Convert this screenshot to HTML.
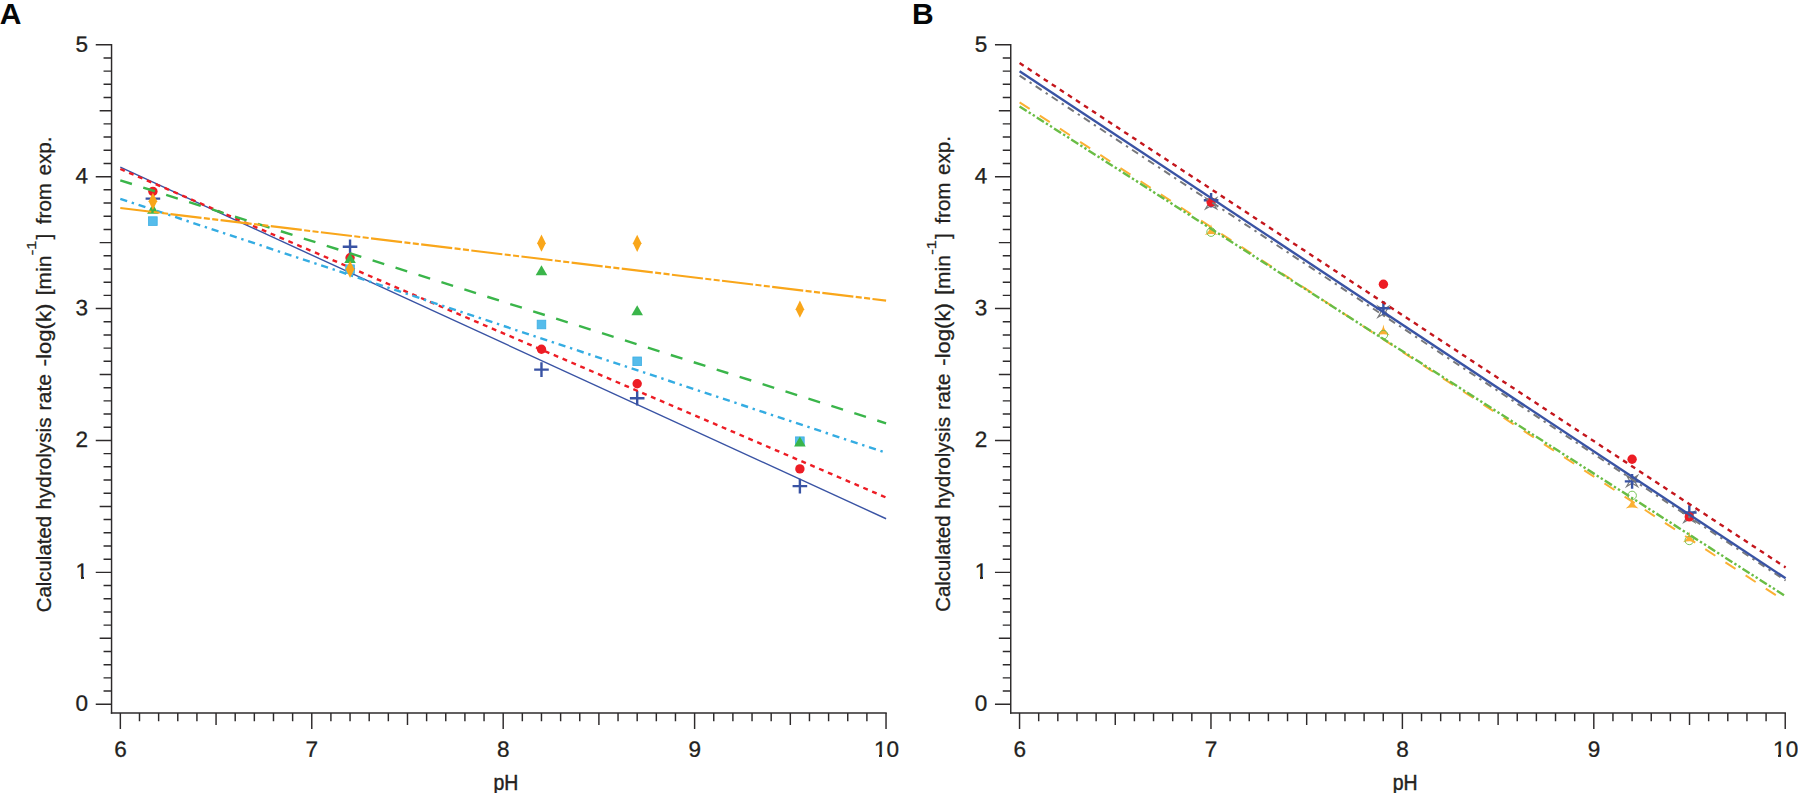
<!DOCTYPE html>
<html lang="en">
<head>
<meta charset="utf-8">
<title>Calculated hydrolysis rate vs pH</title>
<style>
html,body{margin:0;padding:0;background:#fff;}
body{width:1798px;height:793px;overflow:hidden;}
svg{display:block;}
text{font-family:"Liberation Sans",sans-serif;fill:#231f20;}
.tk text{font-size:22.1px;}
.ph{font-size:21.6px;}
.tk text,.ph,.al,.sup{stroke:#231f20;stroke-width:0.3px;}
.ph{stroke-width:0.45px;}
.al{font-size:20.9px;}
.sup{font-size:13.6px;}
.pl{font-size:30.0px;font-weight:bold;fill:#050708;}
</style>
</head>
<body>
<svg width="1798" height="793" viewBox="0 0 1798 793">
<rect width="1798" height="793" fill="#ffffff"/>
<g fill="none" stroke="#2d2a2b" stroke-width="1.45"><path d="M111.55 44.02V713.73" /><path d="M110.83 713.00H886.75" /><path d="M111.55 704.25h-15.8M111.55 691.06h-8.0M111.55 677.87h-8.0M111.55 664.68h-8.0M111.55 651.49h-8.0M111.55 638.30h-11.9M111.55 625.11h-8.0M111.55 611.92h-8.0M111.55 598.73h-8.0M111.55 585.54h-8.0M111.55 572.35h-15.8M111.55 559.16h-8.0M111.55 545.97h-8.0M111.55 532.78h-8.0M111.55 519.59h-8.0M111.55 506.40h-11.9M111.55 493.21h-8.0M111.55 480.02h-8.0M111.55 466.83h-8.0M111.55 453.64h-8.0M111.55 440.45h-15.8M111.55 427.26h-8.0M111.55 414.07h-8.0M111.55 400.88h-8.0M111.55 387.69h-8.0M111.55 374.50h-11.9M111.55 361.31h-8.0M111.55 348.12h-8.0M111.55 334.93h-8.0M111.55 321.74h-8.0M111.55 308.55h-15.8M111.55 295.36h-8.0M111.55 282.17h-8.0M111.55 268.98h-8.0M111.55 255.79h-8.0M111.55 242.60h-11.9M111.55 229.41h-8.0M111.55 216.22h-8.0M111.55 203.03h-8.0M111.55 189.84h-8.0M111.55 176.65h-15.8M111.55 163.46h-8.0M111.55 150.27h-8.0M111.55 137.08h-8.0M111.55 123.89h-8.0M111.55 110.70h-11.9M111.55 97.51h-8.0M111.55 84.32h-8.0M111.55 71.13h-8.0M111.55 57.94h-8.0M111.55 44.75h-15.8M120.35 713.00v16.0M139.49 713.00v8.2M158.63 713.00v8.2M177.78 713.00v8.2M196.92 713.00v8.2M216.06 713.00v12.1M235.20 713.00v8.2M254.34 713.00v8.2M273.49 713.00v8.2M292.63 713.00v8.2M311.77 713.00v16.0M330.91 713.00v8.2M350.05 713.00v8.2M369.20 713.00v8.2M388.34 713.00v8.2M407.48 713.00v12.1M426.62 713.00v8.2M445.76 713.00v8.2M464.91 713.00v8.2M484.05 713.00v8.2M503.19 713.00v16.0M522.33 713.00v8.2M541.47 713.00v8.2M560.62 713.00v8.2M579.76 713.00v8.2M598.90 713.00v12.1M618.04 713.00v8.2M637.18 713.00v8.2M656.33 713.00v8.2M675.47 713.00v8.2M694.61 713.00v16.0M713.75 713.00v8.2M732.89 713.00v8.2M752.04 713.00v8.2M771.18 713.00v8.2M790.32 713.00v12.1M809.46 713.00v8.2M828.60 713.00v8.2M847.75 713.00v8.2M866.89 713.00v8.2M886.03 713.00v16.0" /></g>
<g fill="none" stroke="#2d2a2b" stroke-width="1.45"><path d="M1010.75 44.02V713.73" /><path d="M1010.02 713.00H1785.95" /><path d="M1010.75 704.25h-15.8M1010.75 691.06h-8.0M1010.75 677.87h-8.0M1010.75 664.68h-8.0M1010.75 651.49h-8.0M1010.75 638.30h-11.9M1010.75 625.11h-8.0M1010.75 611.92h-8.0M1010.75 598.73h-8.0M1010.75 585.54h-8.0M1010.75 572.35h-15.8M1010.75 559.16h-8.0M1010.75 545.97h-8.0M1010.75 532.78h-8.0M1010.75 519.59h-8.0M1010.75 506.40h-11.9M1010.75 493.21h-8.0M1010.75 480.02h-8.0M1010.75 466.83h-8.0M1010.75 453.64h-8.0M1010.75 440.45h-15.8M1010.75 427.26h-8.0M1010.75 414.07h-8.0M1010.75 400.88h-8.0M1010.75 387.69h-8.0M1010.75 374.50h-11.9M1010.75 361.31h-8.0M1010.75 348.12h-8.0M1010.75 334.93h-8.0M1010.75 321.74h-8.0M1010.75 308.55h-15.8M1010.75 295.36h-8.0M1010.75 282.17h-8.0M1010.75 268.98h-8.0M1010.75 255.79h-8.0M1010.75 242.60h-11.9M1010.75 229.41h-8.0M1010.75 216.22h-8.0M1010.75 203.03h-8.0M1010.75 189.84h-8.0M1010.75 176.65h-15.8M1010.75 163.46h-8.0M1010.75 150.27h-8.0M1010.75 137.08h-8.0M1010.75 123.89h-8.0M1010.75 110.70h-11.9M1010.75 97.51h-8.0M1010.75 84.32h-8.0M1010.75 71.13h-8.0M1010.75 57.94h-8.0M1010.75 44.75h-15.8M1019.55 713.00v16.0M1038.69 713.00v8.2M1057.83 713.00v8.2M1076.98 713.00v8.2M1096.12 713.00v8.2M1115.26 713.00v12.1M1134.40 713.00v8.2M1153.54 713.00v8.2M1172.69 713.00v8.2M1191.83 713.00v8.2M1210.97 713.00v16.0M1230.11 713.00v8.2M1249.25 713.00v8.2M1268.40 713.00v8.2M1287.54 713.00v8.2M1306.68 713.00v12.1M1325.82 713.00v8.2M1344.96 713.00v8.2M1364.11 713.00v8.2M1383.25 713.00v8.2M1402.39 713.00v16.0M1421.53 713.00v8.2M1440.67 713.00v8.2M1459.82 713.00v8.2M1478.96 713.00v8.2M1498.10 713.00v12.1M1517.24 713.00v8.2M1536.38 713.00v8.2M1555.53 713.00v8.2M1574.67 713.00v8.2M1593.81 713.00v16.0M1612.95 713.00v8.2M1632.09 713.00v8.2M1651.24 713.00v8.2M1670.38 713.00v8.2M1689.52 713.00v12.1M1708.66 713.00v8.2M1727.80 713.00v8.2M1746.95 713.00v8.2M1766.09 713.00v8.2M1785.23 713.00v16.0" /></g>
<g class="tk"><text transform="translate(88.10 710.75) rotate(0.03) scale(1.02 1)" text-anchor="end">0</text><text transform="translate(88.10 578.85) rotate(0.03) scale(1.02 1)" text-anchor="end">1</text><text transform="translate(88.10 447.05) rotate(0.03) scale(1.02 1)" text-anchor="end">2</text><text transform="translate(88.10 315.35) rotate(0.03) scale(1.02 1)" text-anchor="end">3</text><text transform="translate(88.10 183.25) rotate(0.03) scale(1.02 1)" text-anchor="end">4</text><text transform="translate(88.10 51.85) rotate(0.03) scale(1.02 1)" text-anchor="end">5</text><text transform="translate(120.45 756.7) rotate(0.03) scale(1.02 1)" text-anchor="middle">6</text><text transform="translate(311.87 756.7) rotate(0.03) scale(1.02 1)" text-anchor="middle">7</text><text transform="translate(503.29 756.7) rotate(0.03) scale(1.02 1)" text-anchor="middle">8</text><text transform="translate(694.71 756.7) rotate(0.03) scale(1.02 1)" text-anchor="middle">9</text><text transform="translate(886.43 756.7) rotate(0.03) scale(1.02 1)" text-anchor="middle">10</text></g>
<text class="ph" transform="translate(505.90 789.8) scale(0.9 1)" text-anchor="middle">pH</text>
<text class="al" transform="translate(50.80 612.20) rotate(-90)" textLength="96.24" lengthAdjust="spacingAndGlyphs">Calculated</text>
<text class="al" transform="translate(50.80 509.50) rotate(-90)" textLength="92.09" lengthAdjust="spacingAndGlyphs">hydrolysis</text>
<text class="al" transform="translate(50.80 410.40) rotate(-90)" textLength="36.47" lengthAdjust="spacingAndGlyphs">rate</text>
<text class="al" transform="translate(50.80 366.20) rotate(-90)" textLength="62.49" lengthAdjust="spacingAndGlyphs">-log(k)</text>
<text class="al" transform="translate(50.80 295.30) rotate(-90)" textLength="39.58" lengthAdjust="spacingAndGlyphs">[min</text>
<text class="sup" transform="translate(36.20 255.30) rotate(-90)" textLength="14.67" lengthAdjust="spacingAndGlyphs">-1</text>
<text class="al" transform="translate(50.80 239.60) rotate(-90)" textLength="5.81" lengthAdjust="spacingAndGlyphs">]</text>
<text class="al" transform="translate(50.80 224.20) rotate(-90)" textLength="41.24" lengthAdjust="spacingAndGlyphs">from</text>
<text class="al" transform="translate(50.80 175.60) rotate(-90)" textLength="39.22" lengthAdjust="spacingAndGlyphs">exp.</text>
<g class="tk"><text transform="translate(987.30 710.75) rotate(0.03) scale(1.02 1)" text-anchor="end">0</text><text transform="translate(987.30 578.85) rotate(0.03) scale(1.02 1)" text-anchor="end">1</text><text transform="translate(987.30 447.05) rotate(0.03) scale(1.02 1)" text-anchor="end">2</text><text transform="translate(987.30 315.35) rotate(0.03) scale(1.02 1)" text-anchor="end">3</text><text transform="translate(987.30 183.25) rotate(0.03) scale(1.02 1)" text-anchor="end">4</text><text transform="translate(987.30 51.85) rotate(0.03) scale(1.02 1)" text-anchor="end">5</text><text transform="translate(1019.65 756.7) rotate(0.03) scale(1.02 1)" text-anchor="middle">6</text><text transform="translate(1211.07 756.7) rotate(0.03) scale(1.02 1)" text-anchor="middle">7</text><text transform="translate(1402.49 756.7) rotate(0.03) scale(1.02 1)" text-anchor="middle">8</text><text transform="translate(1593.91 756.7) rotate(0.03) scale(1.02 1)" text-anchor="middle">9</text><text transform="translate(1785.63 756.7) rotate(0.03) scale(1.02 1)" text-anchor="middle">10</text></g>
<text class="ph" transform="translate(1405.10 789.8) scale(0.9 1)" text-anchor="middle">pH</text>
<text class="al" transform="translate(950.30 611.70) rotate(-90)" textLength="96.24" lengthAdjust="spacingAndGlyphs">Calculated</text>
<text class="al" transform="translate(950.30 509.00) rotate(-90)" textLength="92.09" lengthAdjust="spacingAndGlyphs">hydrolysis</text>
<text class="al" transform="translate(950.30 409.90) rotate(-90)" textLength="36.47" lengthAdjust="spacingAndGlyphs">rate</text>
<text class="al" transform="translate(950.30 365.70) rotate(-90)" textLength="62.49" lengthAdjust="spacingAndGlyphs">-log(k)</text>
<text class="al" transform="translate(950.30 294.80) rotate(-90)" textLength="39.58" lengthAdjust="spacingAndGlyphs">[min</text>
<text class="sup" transform="translate(935.70 254.80) rotate(-90)" textLength="14.67" lengthAdjust="spacingAndGlyphs">-1</text>
<text class="al" transform="translate(950.30 239.10) rotate(-90)" textLength="5.81" lengthAdjust="spacingAndGlyphs">]</text>
<text class="al" transform="translate(950.30 223.70) rotate(-90)" textLength="41.24" lengthAdjust="spacingAndGlyphs">from</text>
<text class="al" transform="translate(950.30 175.10) rotate(-90)" textLength="39.22" lengthAdjust="spacingAndGlyphs">exp.</text>
<g><path d="M145.59 198.60h14.6M152.89 191.30v14.6" stroke="#3953a4" stroke-width="2.4" fill="none"/><path d="M342.75 246.70h14.6M350.05 239.40v14.6" stroke="#3953a4" stroke-width="2.4" fill="none"/><path d="M534.17 369.60h14.6M541.47 362.30v14.6" stroke="#3953a4" stroke-width="2.4" fill="none"/><path d="M629.88 398.30h14.6M637.18 391.00v14.6" stroke="#3953a4" stroke-width="2.4" fill="none"/><path d="M792.59 486.10h14.6M799.89 478.80v14.6" stroke="#3953a4" stroke-width="2.4" fill="none"/><path d="M120.30 167.20L886.10 518.75" stroke="#3953a4" stroke-width="1.4" fill="none"/><circle cx="152.89" cy="191.40" r="4.7" fill="#ed1c24"/><circle cx="350.05" cy="257.80" r="4.7" fill="#ed1c24"/><circle cx="541.47" cy="349.20" r="4.7" fill="#ed1c24"/><circle cx="637.18" cy="383.70" r="4.7" fill="#ed1c24"/><circle cx="799.89" cy="468.90" r="4.7" fill="#ed1c24"/><path d="M120.30 169.00L886.10 497.50" stroke="#ed1c24" stroke-width="2.4" fill="none" stroke-dasharray="4.85 4.775"/><rect x="148.59" y="216.80" width="8.6" height="8.6" fill="#55bceb" stroke="#3cade3" stroke-width="0.8"/><rect x="345.75" y="264.90" width="8.6" height="8.6" fill="#55bceb" stroke="#3cade3" stroke-width="0.8"/><rect x="537.17" y="320.20" width="8.6" height="8.6" fill="#55bceb" stroke="#3cade3" stroke-width="0.8"/><rect x="632.88" y="357.00" width="8.6" height="8.6" fill="#55bceb" stroke="#3cade3" stroke-width="0.8"/><rect x="795.59" y="436.90" width="8.6" height="8.6" fill="#55bceb" stroke="#3cade3" stroke-width="0.8"/><path d="M120.30 198.80L886.10 452.80" stroke="#34ace2" stroke-width="2.4" fill="none" stroke-dasharray="7.2 4.8 2.4 4.84"/><path d="M152.89 203.95L158.69 213.85H147.09Z" fill="#3ab54a"/><path d="M350.05 253.15L355.85 263.05H344.25Z" fill="#3ab54a"/><path d="M541.47 265.25L547.27 275.15H535.67Z" fill="#3ab54a"/><path d="M637.18 305.25L642.98 315.15H631.38Z" fill="#3ab54a"/><path d="M799.89 436.55L805.69 446.45H794.09Z" fill="#3ab54a"/><path d="M120.30 180.30L886.10 423.30" stroke="#3ab54a" stroke-width="2.4" fill="none" stroke-dasharray="12.2 11.865"/><path d="M152.89 192.70L157.19 201.30L152.89 209.90L148.59 201.30Z" fill="#f9a61a"/><path d="M350.05 260.70L354.35 269.30L350.05 277.90L345.75 269.30Z" fill="#f9a61a"/><path d="M541.47 234.60L545.77 243.20L541.47 251.80L537.17 243.20Z" fill="#f9a61a"/><path d="M637.18 234.70L641.48 243.30L637.18 251.90L632.88 243.30Z" fill="#f9a61a"/><path d="M799.89 300.60L804.19 309.20L799.89 317.80L795.59 309.20Z" fill="#f9a61a"/><path d="M120.30 208.00L886.10 300.60" stroke="#f9a61a" stroke-width="2.15" fill="none" stroke-dasharray="31.25 2.4 6.03 2.4 6.03 2.4"/></g>
<g><polygon points="1216.62,197.83 1213.40,203.35 1216.62,208.87 1211.10,205.65 1205.58,208.87 1208.80,203.35 1205.58,197.83 1211.10,201.05" fill="none" stroke="#77787b" stroke-width="1.2" stroke-linejoin="miter"/><polygon points="1388.92,306.18 1385.70,311.70 1388.92,317.22 1383.40,314.00 1377.88,317.22 1381.10,311.70 1377.88,306.18 1383.40,309.40" fill="none" stroke="#77787b" stroke-width="1.2" stroke-linejoin="miter"/><polygon points="1637.62,475.48 1634.40,481.00 1637.62,486.52 1632.10,483.30 1626.58,486.52 1629.80,481.00 1626.58,475.48 1632.10,478.70" fill="none" stroke="#77787b" stroke-width="1.2" stroke-linejoin="miter"/><polygon points="1694.82,511.38 1691.60,516.90 1694.82,522.42 1689.30,519.20 1683.78,522.42 1687.00,516.90 1683.78,511.38 1689.30,514.60" fill="none" stroke="#77787b" stroke-width="1.2" stroke-linejoin="miter"/><path d="M1203.80 200.30h14.6M1211.10 193.00v14.6" stroke="#3953a4" stroke-width="2.4" fill="none"/><path d="M1376.10 308.30h14.6M1383.40 301.00v14.6" stroke="#3953a4" stroke-width="2.4" fill="none"/><path d="M1624.80 481.40h14.6M1632.10 474.10v14.6" stroke="#3953a4" stroke-width="2.4" fill="none"/><path d="M1682.00 512.50h14.6M1689.30 505.20v14.6" stroke="#3953a4" stroke-width="2.4" fill="none"/><circle cx="1211.10" cy="202.10" r="4.7" fill="#ed1c24"/><circle cx="1383.40" cy="284.20" r="4.7" fill="#ed1c24"/><circle cx="1632.10" cy="459.30" r="4.7" fill="#ed1c24"/><circle cx="1689.30" cy="516.90" r="4.7" fill="#ed1c24"/><path d="M1211.10 224.20Q1211.90 230.70 1217.50 235.00Q1211.10 233.00 1204.70 235.00Q1210.30 230.70 1211.10 224.20Z" fill="#fbb033"/><path d="M1383.40 324.50Q1384.20 331.00 1389.80 335.30Q1383.40 333.30 1377.00 335.30Q1382.60 331.00 1383.40 324.50Z" fill="#fbb033"/><path d="M1632.10 497.80Q1632.90 504.30 1638.50 508.60Q1632.10 506.60 1625.70 508.60Q1631.30 504.30 1632.10 497.80Z" fill="#fbb033"/><path d="M1689.30 531.50Q1690.10 538.00 1695.70 542.30Q1689.30 540.30 1682.90 542.30Q1688.50 538.00 1689.30 531.50Z" fill="#fbb033"/><circle cx="1211.10" cy="232.10" r="4.3" fill="none" stroke="#69bd45" stroke-width="0.9"/><circle cx="1383.40" cy="334.70" r="4.3" fill="none" stroke="#69bd45" stroke-width="0.9"/><circle cx="1632.10" cy="495.50" r="4.3" fill="none" stroke="#69bd45" stroke-width="0.9"/><circle cx="1689.30" cy="540.40" r="4.3" fill="none" stroke="#69bd45" stroke-width="0.9"/></g>
<g><path d="M1019.60 63.00L1785.60 567.40" stroke="#c4161c" stroke-width="2.4" fill="none" stroke-dasharray="4.85 4.784"/><path d="M1019.60 75.60L1785.60 580.50" stroke="#77787b" stroke-width="2.0" fill="none" stroke-dasharray="7.2 4.8 2.4 4.838"/><path d="M1019.60 71.30L1785.60 578.30" stroke="#3953a4" stroke-width="2.4" fill="none"/><path d="M1019.60 102.40L1785.60 601.50" stroke="#fbb033" stroke-width="2.0" fill="none" stroke-dasharray="12 12.07"/><path d="M1019.60 106.40L1785.60 596.20" stroke="#69bd45" stroke-width="2.4" fill="none" stroke-dasharray="8.4 2.4 2.4 2.4 2.4 2.43"/></g>
<g fill="#ffffff" shape-rendering="crispEdges"><rect x="76" y="577" width="5" height="2"/><rect x="84" y="577" width="4.5" height="2"/><rect x="874" y="755" width="5" height="2"/><rect x="882" y="755" width="4.5" height="2"/><rect x="975" y="577" width="5" height="2"/><rect x="983" y="577" width="4.5" height="2"/><rect x="1773" y="755" width="5" height="2"/><rect x="1781" y="755" width="4.5" height="2"/></g>
<text class="pl" x="-0.3" y="23.7">A</text>
<text class="pl" x="911.9" y="23.7">B</text>
</svg>
</body>
</html>
